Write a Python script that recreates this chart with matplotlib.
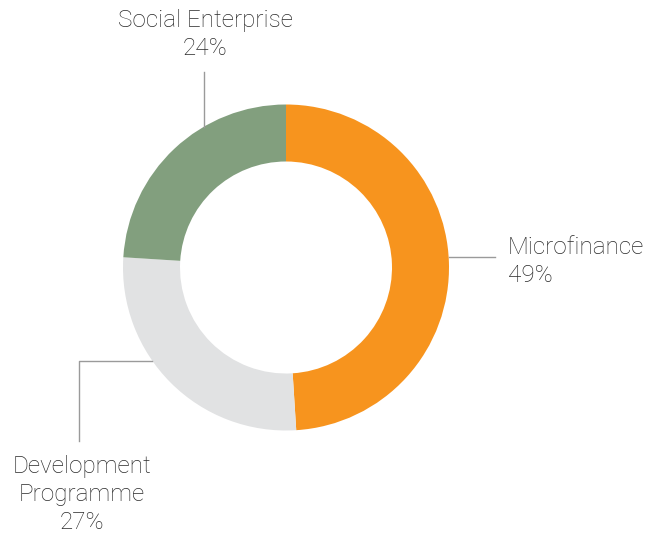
import matplotlib.pyplot as plt

# segment names and shares, clockwise from the top
labels = ['Microfinance', 'Development\nProgramme', 'Social Enterprise']
sizes = [49, 27, 24]
colors = ['#F7941E', '#E1E2E3', '#829F7E']

W, H = 659, 536
fig = plt.figure(figsize=(W / 100, H / 100), dpi=100)
ax = fig.add_axes([0, 0, 1, 1])

def py(y):
    # pixel row (from top) -> data y
    return H - y

cx, cy, r = 286, py(267.5), 163
ax.pie(sizes, colors=colors, startangle=90, counterclock=False,
       center=(cx, cy), radius=r, frame=True,
       wedgeprops=dict(width=57, linewidth=0))
ax.set_xlim(0, W)
ax.set_ylim(0, H)
ax.set_aspect('equal')
ax.axis('off')

lc = '#9a9a9a'
ax.plot([204, 204], [py(72), py(127)], color=lc, lw=1)
ax.plot([449, 495], [py(257), py(257)], color=lc, lw=1)
ax.plot([152, 79, 79], [py(361), py(361), py(441)], color=lc, lw=1)

font = dict(family=['Roboto', 'DejaVu Sans'], fontweight='light',
            fontsize=17.5, color='#2a2a2a', linespacing=1.3)
txt = [f'{l}\n{s}%' for l, s in zip(labels, sizes)]
ax.text(205, py(34.5), txt[2], ha='center', va='center',
        multialignment='center', **font)
ax.text(508, py(261.5), txt[0], ha='left', va='center',
        multialignment='left', **font)
ax.text(82, py(494.5), txt[1], ha='center', va='center',
        multialignment='center', **font)

fig.savefig('out.png', dpi=100)
